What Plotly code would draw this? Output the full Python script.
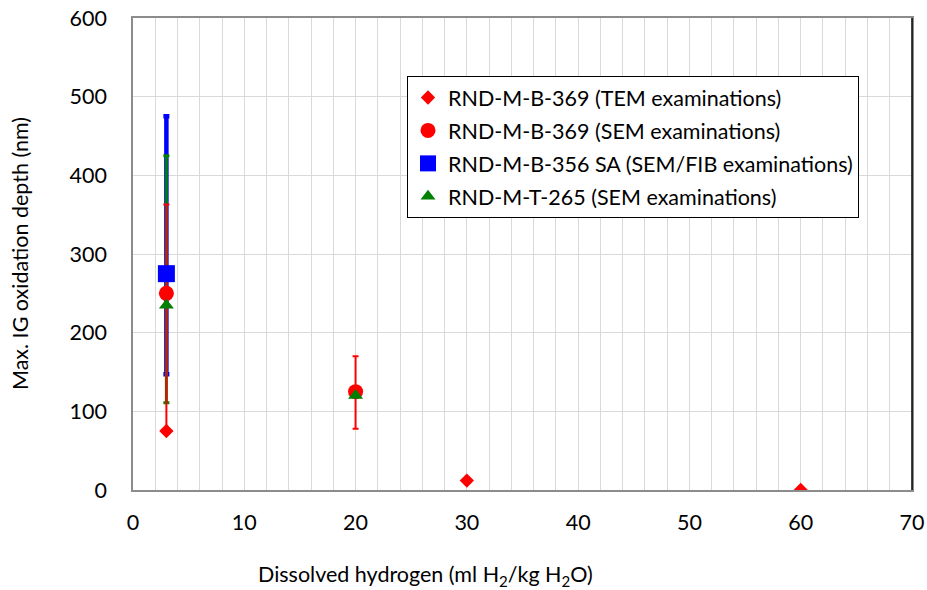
import plotly.graph_objects as go

# Max. intergranular oxidation depth vs. dissolved hydrogen
tem_x = [3, 30, 60]
tem_y = [75, 12, 0]

sem369_x = [3, 20]
sem369_y = [250, 125]
sem369_err_plus = [113, 45]
sem369_err_minus = [175, 47]

fib356_x = [3]
fib356_y = [275]
fib356_err_plus = [200]
fib356_err_minus = [128]

sem265_x = [3, 20]
sem265_y = [235, 120]
sem265_err_plus = [190, 0]
sem265_err_minus = [124, 0]

names = [
    "RND-M-B-369 (TEM examinations)",
    "RND-M-B-369 (SEM examinations)",
    "RND-M-B-356 SA (SEM/FIB examinations)",
    "RND-M-T-265 (SEM examinations)",
]

FONT = "Lato"
FS = 21.5
RED, BLUE, GREEN = "#ff0000", "#0000ff", "#008000"

fig = go.Figure()

# error bars first so every marker sits above them (blue, green, then red on top)
def err_trace(x, y, plus, minus, color, width):
    return go.Scatter(
        x=x, y=y, mode="markers", showlegend=False, hoverinfo="skip",
        marker=dict(size=1, opacity=0, color=color),
        error_y=dict(type="data", symmetric=False, array=plus, arrayminus=minus,
                     color=color, thickness=width, width=3),
    )

fig.add_trace(err_trace(fib356_x, fib356_y, fib356_err_plus, fib356_err_minus, BLUE, 4.5))
fig.add_trace(err_trace(sem265_x, sem265_y, sem265_err_plus, sem265_err_minus, GREEN, 3))
fig.add_trace(err_trace(sem369_x, sem369_y, sem369_err_plus, sem369_err_minus, RED, 2))

fig.add_trace(go.Scatter(x=tem_x, y=tem_y, mode="markers", name=names[0], legendgroup="a",
                         marker=dict(symbol="diamond", size=11, color=RED)))
fig.add_trace(go.Scatter(x=sem369_x, y=sem369_y, mode="markers", name=names[1], legendgroup="b",
                         marker=dict(symbol="circle", size=15, color=RED)))
fig.add_trace(go.Scatter(x=fib356_x, y=fib356_y, mode="markers", name=names[2], legendgroup="c",
                         marker=dict(symbol="square", size=17, color=BLUE)))
fig.add_trace(go.Scatter(x=sem265_x, y=sem265_y, mode="markers", name=names[3], legendgroup="d",
                         marker=dict(symbol="triangle-up", size=13, color=GREEN)))

fig.update_layout(
    width=927, height=590,
    margin=dict(l=133, r=15, t=18, b=100, autoexpand=False),
    paper_bgcolor="white", plot_bgcolor="white",
    font=dict(family=FONT, size=FS, color="#000000"),
    showlegend=True,
    legend=dict(
        x=(407 - 133) / 779, y=(490 - 76) / 472, xanchor="left", yanchor="top",
        bgcolor="white", bordercolor="#000000", borderwidth=1,
        font=dict(family=FONT, size=FS), tracegroupgap=2,
        itemsizing="trace",
    ),
    xaxis=dict(
        range=[0, 70], tickmode="linear", tick0=0, dtick=10, automargin=False,
        showgrid=True, gridcolor="#d9d9d9", gridwidth=1,
        minor=dict(dtick=2, showgrid=True, gridcolor="#d9d9d9", gridwidth=1),
        showline=True, linecolor="#8c8c8c", linewidth=1.5, mirror=True,
        ticks="", zeroline=False, ticklabelstandoff=12,
        tickfont=dict(family=FONT, size=FS),
    ),
    yaxis=dict(
        range=[0, 600], tickmode="linear", tick0=0, dtick=100, automargin=False,
        showgrid=True, gridcolor="#d9d9d9", gridwidth=1,
        showline=True, linecolor="#8c8c8c", linewidth=1.5, mirror=True,
        ticks="", zeroline=False, ticklabelstandoff=20,
        tickfont=dict(family=FONT, size=FS),
    ),
    annotations=[
        dict(text="Dissolved hydrogen (ml H<sub>2</sub>/kg H<sub>2</sub>O)",
             xref="paper", yref="paper", x=(425 - 133) / 779, y=-(575 - 490) / 472,
             xanchor="center", yanchor="middle", showarrow=False,
             font=dict(family=FONT, size=FS)),
        dict(text="Max. IG oxidation depth (nm)",
             xref="paper", yref="paper", x=(20 - 133) / 779, y=0.5,
             xanchor="center", yanchor="middle", showarrow=False, textangle=-90,
             font=dict(family=FONT, size=FS)),
    ],
    shapes=[
        dict(type="line", xref="paper", yref="paper", x0=1, x1=1, y0=0, y1=1,
             line=dict(color="#000000", width=1.5)),
    ],
)

fig.write_html("out.html")
